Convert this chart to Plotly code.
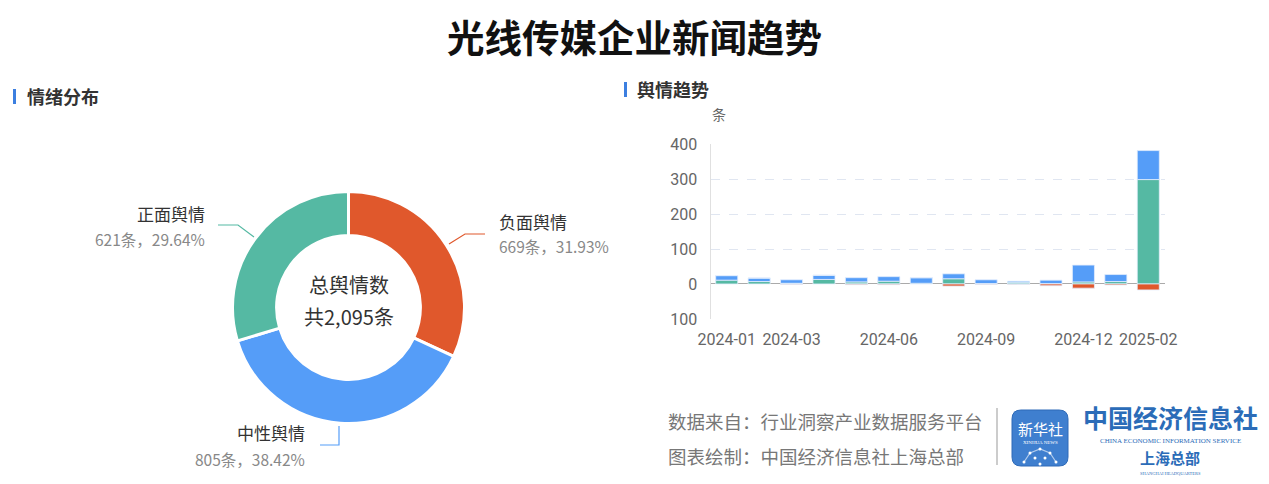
import plotly.graph_objects as go

W, H = 1269, 484

# ---- data ----
sent_labels = ["负面舆情", "中性舆情", "正面舆情"]
sent_values = [669, 805, 621]
sent_pct = ["31.93%", "38.42%", "29.64%"]
sent_colors = ["#E0582C", "#559DF8", "#55B9A3"]

months = ["2024-01", "2024-02", "2024-03", "2024-04", "2024-05", "2024-06", "2024-07",
          "2024-08", "2024-09", "2024-10", "2024-11", "2024-12", "2025-01", "2025-02"]
positive = [11, 7, 2, 13, 6, 8, 2, 15, 1, 5, 1, 6, 7, 299]
neutral = [13, 10, 10, 12, 12, 13, 16, 14, 11, 3, 10, 48, 20, 83]
negative = [0, 0, -1, 0, -2, -2, 0, -6, -1, -1, -5, -12, -3, -17]
x_tick_months = ["2024-01", "2024-03", "2024-06", "2024-09", "2024-12", "2025-02"]
y_tick_vals = [-100, 0, 100, 200, 300, 400]
y_tick_text = ["100", "0", "100", "200", "300", "400"]

FONT = "Noto Sans CJK SC"


def px(x):
    return x / W


def py(y):
    return 1 - y / H


fig = go.Figure()

# donut
fig.add_trace(go.Pie(
    labels=sent_labels, values=sent_values, hole=0.62, sort=False,
    direction="clockwise", rotation=0,
    marker=dict(colors=sent_colors, line=dict(color="white", width=3)),
    textinfo="none", showlegend=False, hoverinfo="label+value+percent",
    domain=dict(x=[px(232.5), px(464.5)], y=[py(423.5), py(191.5)]),
))

# stacked bars
bar_line = dict(color="#E3EEFC", width=0.8)
fig.add_trace(go.Bar(x=months, y=positive, name="正面舆情", marker=dict(color=sent_colors[2], line=bar_line),
                     xaxis="x", yaxis="y", showlegend=False))
fig.add_trace(go.Bar(x=months, y=neutral, name="中性舆情", marker=dict(color=sent_colors[1], line=bar_line),
                     xaxis="x", yaxis="y", showlegend=False))
fig.add_trace(go.Bar(x=months, y=negative, name="负面舆情", marker=dict(color=sent_colors[0], line=bar_line),
                     xaxis="x", yaxis="y", showlegend=False))

annotations = []
shapes = []


def ann(text, x, y, size, color="#333", xanchor="center", yanchor="middle", bold=False, family=FONT):
    if bold:
        text = "<b>" + text + "</b>"
    annotations.append(dict(text=text, x=px(x), y=py(y), xref="paper", yref="paper",
                            showarrow=False, xanchor=xanchor, yanchor=yanchor,
                            font=dict(size=size, color=color, family=family)))


# title
ann("光线传媒企业新闻趋势", 634, 35, 37.5, color="#111", bold=True)

# section headers
shapes.append(dict(type="rect", xref="paper", yref="paper", x0=px(13), x1=px(16), y0=py(104), y1=py(89),
                   fillcolor="#3C7FE0", line=dict(width=0)))
ann("情绪分布", 25, 96, 18, color="#333", xanchor="left", bold=True)
shapes.append(dict(type="rect", xref="paper", yref="paper", x0=px(624), x1=px(627), y0=py(97), y1=py(82),
                   fillcolor="#3C7FE0", line=dict(width=0)))
ann("舆情趋势", 635, 89, 18, color="#333", xanchor="left", bold=True)

# unit
ann("条", 719, 114, 14, color="#666")

# donut center
ann("总舆情数", 349, 284, 20, color="#333")
ann("共2,095条", 349, 316, 20, color="#333")

# donut outside labels
ann(sent_labels[2], 207, 213, 17, color="#333", xanchor="right")
ann(f"{sent_values[2]}条，{sent_pct[2]}", 207, 239, 15.5, color="#888", xanchor="right")
ann(sent_labels[0], 497, 221, 17, color="#333", xanchor="left")
ann(f"{sent_values[0]}条，{sent_pct[0]}", 497, 246, 15.5, color="#888", xanchor="left")
ann(sent_labels[1], 307, 432, 17, color="#333", xanchor="right")
ann(f"{sent_values[1]}条，{sent_pct[1]}", 307, 459, 15.5, color="#888", xanchor="right")


def poly(points, color):
    d = "M " + " L ".join(f"{px(a)},{py(b)}" for a, b in points)
    shapes.append(dict(type="path", xref="paper", yref="paper", path=d,
                       line=dict(color=color, width=1.2)))


poly([(218, 225), (238, 225), (254, 237)], sent_colors[2])
poly([(449, 244), (465, 234), (485, 234)], sent_colors[0])
poly([(339, 426), (339, 445), (320, 445)], sent_colors[1])

# footer
ann("数据来自：行业洞察产业数据服务平台", 666, 421, 18.5, color="#777", xanchor="left")
ann("图表绘制：中国经济信息社上海总部", 666, 456, 18.5, color="#777", xanchor="left")
shapes.append(dict(type="line", xref="paper", yref="paper", x0=px(997), x1=px(997), y0=py(408), y1=py(465),
                   line=dict(color="#999", width=1)))

# logo icon (rounded square)
x0, x1, y0, y1, r = 1012, 1068, 410, 466, 9
path = (f"M {px(x0 + r)},{py(y0)} L {px(x1 - r)},{py(y0)} Q {px(x1)},{py(y0)} {px(x1)},{py(y0 + r)} "
        f"L {px(x1)},{py(y1 - r)} Q {px(x1)},{py(y1)} {px(x1 - r)},{py(y1)} "
        f"L {px(x0 + r)},{py(y1)} Q {px(x0)},{py(y1)} {px(x0)},{py(y1 - r)} "
        f"L {px(x0)},{py(y0 + r)} Q {px(x0)},{py(y0)} {px(x0 + r)},{py(y0)} Z")
shapes.append(dict(type="path", xref="paper", yref="paper", path=path,
                   fillcolor="#3F7FCF", line=dict(color="#2F6BB8", width=1)))
ann("新华社", 1040, 428, 15, color="white")
ann("XINHUA NEWS", 1040, 442, 5, color="white", family="Liberation Serif")
# network dots
dots = [(1024, 462), (1030, 453), (1040, 449), (1050, 453), (1056, 462), (1035, 458), (1045, 458), (1040, 464)]
for a, b in dots:
    shapes.append(dict(type="circle", xref="paper", yref="paper", x0=px(a - 1.5), x1=px(a + 1.5),
                       y0=py(b + 1.5), y1=py(b - 1.5), fillcolor="white", line=dict(width=0)))
poly([(1024, 462), (1030, 453), (1040, 449), (1050, 453), (1056, 462)], "rgba(255,255,255,0.6)")

ann("中国经济信息社", 1170, 417, 25, color="#2B6CB8", bold=True)
ann("CHINA ECONOMIC INFORMATION SERVICE", 1170, 440.5, 7, color="#2B6CB8", family="Liberation Serif")
ann("上海总部", 1170, 457, 15, color="#2B6CB8", bold=True)
ann("SHANGHAI HEADQUARTERS", 1170, 473, 4.5, color="#2B6CB8", family="Liberation Serif")

fig.update_layout(
    template="none",
    width=W, height=H, autosize=False,
    margin=dict(l=0, r=0, t=0, b=0, pad=0, autoexpand=False),
    paper_bgcolor="white", plot_bgcolor="white",
    barmode="relative", bargap=0.32,
    font=dict(family=FONT),
    xaxis=dict(domain=[px(710.5), px(1164.5)], type="category",
               tickmode="array", tickvals=x_tick_months, ticktext=x_tick_months,
               showgrid=False, showline=False, ticks="", automargin=False,
               ticklabelstandoff=9,
               tickfont=dict(size=16, color="#666", family="Roboto"), anchor="y",
               fixedrange=True),
    yaxis=dict(domain=[py(318.9), py(144.3)], range=[-100, 400],
               tickmode="array", tickvals=y_tick_vals, ticktext=y_tick_text,
               showgrid=True, gridcolor="#E0E6F1", griddash="dash", gridwidth=1,
               zeroline=True, zerolinecolor="#AAAAAA", zerolinewidth=1,
               showline=True, linecolor="#E0E0E0", linewidth=1,
               ticks="", ticklabelstandoff=9, automargin=False,
               tickfont=dict(size=16, color="#666", family="Roboto"), anchor="x",
               fixedrange=True),
    annotations=annotations, shapes=shapes,
)

fig.write_html("out.html", config={"displayModeBar": False},
               post_script="document.body.style.margin='0';document.body.style.overflow='hidden';")
